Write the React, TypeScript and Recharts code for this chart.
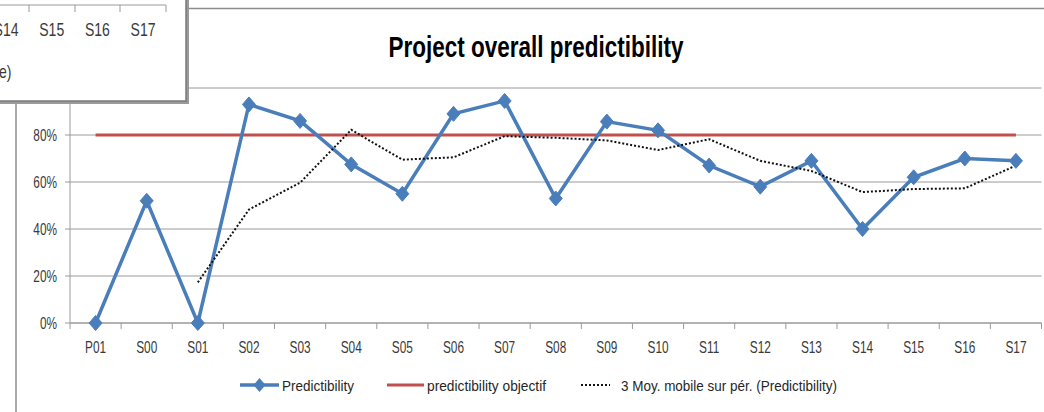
import React from 'react';
import { LineChart, Line, XAxis, YAxis, CartesianGrid } from 'recharts';

const categories = ['P01', 'S00', 'S01', 'S02', 'S03', 'S04', 'S05', 'S06', 'S07', 'S08', 'S09', 'S10', 'S11', 'S12', 'S13', 'S14', 'S15', 'S16', 'S17'];
const predictibility = [0, 0.52, 0, 0.93, 0.86, 0.675, 0.55, 0.89, 0.945, 0.53, 0.857, 0.82, 0.67, 0.58, 0.69, 0.40, 0.62, 0.70, 0.69];
const objectif = [0.8, 0.8, 0.8, 0.8, 0.8, 0.8, 0.8, 0.8, 0.8, 0.8, 0.8, 0.8, 0.8, 0.8, 0.8, 0.8, 0.8, 0.8, 0.8];
const movingAvg = [null, null, 0.173, 0.483, 0.597, 0.822, 0.695, 0.705, 0.795, 0.788, 0.777, 0.736, 0.782, 0.69, 0.647, 0.557, 0.57, 0.573, 0.67];
const yTicks = [0, 0.2, 0.4, 0.6, 0.8, 1];
const popupLabels = ['S14', 'S15', 'S16', 'S17'];

const data = categories.map((c, i) => ({
  cat: c,
  pred: predictibility[i],
  obj: objectif[i],
  avg: movingAvg[i],
}));

const W = 1044;
const H = 412;
const PLOT_LEFT = 70;
const PLOT_RIGHT = 1041.5;
const BAND = (PLOT_RIGHT - PLOT_LEFT) / categories.length;
const FONT = "'Liberation Sans', Arial, sans-serif";
const SX = 0.74;
const AXIS_GRAY = '#9a9a9a';
const BLUE = '#4A7EBB';
const RED = '#C0504D';
const LEG_Y = 385;

const XTick = (props: any) => {
  const { x, y, payload, index } = props;
  const last = index === categories.length - 1;
  return (
    <g>
      <line x1={x - BAND / 2} x2={x - BAND / 2} y1={y} y2={y + 6} stroke={AXIS_GRAY} strokeWidth={1} />
      {last && <line x1={x + BAND / 2} x2={x + BAND / 2} y1={y} y2={y + 6} stroke={AXIS_GRAY} strokeWidth={1} />}
      <text
        transform={`translate(${x},${y + 30}) scale(${SX},1)`}
        textAnchor="middle"
        fontSize={16}
        fontFamily={FONT}
        fill="#3a3a3a"
      >
        {payload.value}
      </text>
    </g>
  );
};

const YTick = (props: any) => {
  const { x, y, payload } = props;
  return (
    <text
      transform={`translate(${x},${y + 5.5}) scale(${SX},1)`}
      textAnchor="end"
      fontSize={16}
      fontFamily={FONT}
      fill="#3a3a3a"
    >
      {Math.round(payload.value * 100) + '%'}
    </text>
  );
};

const Diamond = (props: any) => {
  const { cx, cy, index } = props;
  if (cx == null || cy == null) return <g key={index} />;
  const hw = 6.5;
  const hh = 7.5;
  return (
    <polygon
      key={index}
      points={`${cx},${cy - hh} ${cx + hw},${cy} ${cx},${cy + hh} ${cx - hw},${cy}`}
      fill={BLUE}
      stroke={BLUE}
      strokeWidth={1}
    />
  );
};

const legendText = (x: number, w: number, label: string) => (
  <text
    x={x}
    y={LEG_Y + 5.5}
    textLength={w}
    lengthAdjust="spacingAndGlyphs"
    fontSize={15}
    fontFamily={FONT}
    fill="#262626"
  >
    {label}
  </text>
);

export default function App() {
  return (
    <div style={{ position: 'absolute', left: 0, top: 0, width: W, height: H, overflow: 'hidden', background: '#fff' }}>
      <LineChart
        width={W}
        height={H}
        data={data}
        margin={{ top: 88, right: W - PLOT_RIGHT, bottom: 59, left: 0 }}
      >
        <CartesianGrid vertical={false} stroke={AXIS_GRAY} strokeWidth={1} />
        <XAxis
          dataKey="cat"
          interval={0}
          height={30}
          tickSize={0}
          tickMargin={0}
          tickLine={false}
          padding={{ left: BAND / 2, right: BAND / 2 }}
          axisLine={{ stroke: AXIS_GRAY, strokeWidth: 1 }}
          tick={(p: any) => <XTick {...p} />}
        />
        <YAxis
          width={PLOT_LEFT}
          domain={[0, 1]}
          ticks={yTicks}
          tickSize={5}
          tickMargin={8}
          tickLine={{ stroke: AXIS_GRAY }}
          axisLine={{ stroke: AXIS_GRAY, strokeWidth: 1 }}
          tick={(p: any) => <YTick {...p} />}
          interval={0}
        />
        <Line
          dataKey="obj"
          stroke={RED}
          strokeWidth={3}
          dot={false}
          activeDot={false}
          isAnimationActive={false}
        />
        <Line
          dataKey="pred"
          stroke={BLUE}
          strokeWidth={3.5}
          dot={(p: any) => <Diamond {...p} key={p.index} />}
          activeDot={false}
          isAnimationActive={false}
        />
        <Line
          dataKey="avg"
          stroke="#111"
          strokeWidth={2}
          strokeDasharray="2 2"
          dot={false}
          activeDot={false}
          isAnimationActive={false}
        />
      </LineChart>

      <svg
        width={W}
        height={H}
        style={{ position: 'absolute', left: 0, top: 0, pointerEvents: 'none' }}
      >
        {/* chart frame */}
        <line x1={16} x2={16} y1={0} y2={H} stroke="#8c8c8c" strokeWidth={1.5} />
        <line x1={0} x2={W} y1={8.5} y2={8.5} stroke="#8c8c8c" strokeWidth={1.5} />

        {/* title */}
        <text
          transform={`translate(536,57) scale(0.75,1)`}
          textAnchor="middle"
          fontSize={30}
          fontWeight="bold"
          fontFamily={FONT}
          fill="#000"
        >
          Project overall predictibility
        </text>

        {/* legend */}
        <line x1={240} x2={279} y1={LEG_Y} y2={LEG_Y} stroke={BLUE} strokeWidth={3.5} />
        <polygon
          points={`259.5,${LEG_Y - 7} 265.5,${LEG_Y} 259.5,${LEG_Y + 7} 253.5,${LEG_Y}`}
          fill={BLUE}
        />
        {legendText(282, 72, 'Predictibility')}
        <line x1={387} x2={424} y1={LEG_Y} y2={LEG_Y} stroke={RED} strokeWidth={3} />
        {legendText(427, 119, 'predictibility objectif')}
        <line x1={581} x2={610} y1={LEG_Y} y2={LEG_Y} stroke="#111" strokeWidth={2} strokeDasharray="2 2" />
        {legendText(621, 216, '3 Moy. mobile sur pér. (Predictibility)')}

        {/* popup box overlapping the chart */}
        <rect x={-6} y={-6} width={195} height={110} fill="#9a9a9a" />
        <rect x={-6} y={-6} width={192} height={107} fill="#fff" stroke="#7a7a7a" strokeWidth={1.5} />
        <line x1={0} x2={166} y1={5} y2={5} stroke={AXIS_GRAY} strokeWidth={1} />
        {[29, 75, 120, 166].map((tx) => (
          <line key={tx} x1={tx} x2={tx} y1={5} y2={12} stroke={AXIS_GRAY} strokeWidth={1} />
        ))}
        {popupLabels.map((l, i) => (
          <text
            key={l}
            transform={`translate(${6 + i * 45.7},36) scale(0.78,1)`}
            textAnchor="middle"
            fontSize={18}
            fontFamily={FONT}
            fill="#3a3a3a"
          >
            {l}
          </text>
        ))}
        <text
          transform="translate(-1,78) scale(0.78,1)"
          fontSize={18}
          fontFamily={FONT}
          fill="#3a3a3a"
        >
          e)
        </text>
      </svg>
    </div>
  );
}
